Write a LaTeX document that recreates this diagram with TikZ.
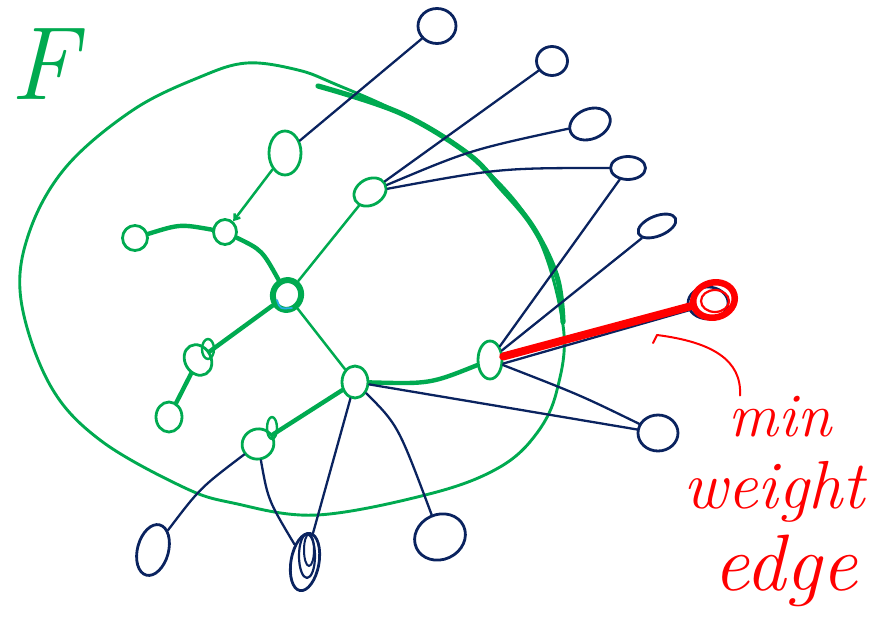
\documentclass[tikz,border=0pt]{standalone}
\usetikzlibrary{shapes.geometric,arrows.meta}
\definecolor{treegreen}{RGB}{0,170,80}
\definecolor{navy}{RGB}{10,35,95}
\definecolor{penred}{RGB}{255,0,0}
\definecolor{hubblue}{RGB}{40,170,230}
\begin{document}
\begin{tikzpicture}[x=1pt,y=-1pt,line cap=round,line join=round,
  gnode/.style={ellipse,draw=treegreen,line width=2.8pt,inner sep=0pt},
  bnode/.style={ellipse,draw=navy,line width=2.8pt,inner sep=0pt},
  gthin/.style={draw=treegreen,line width=2.5pt},
  gthick/.style={draw=treegreen,line width=4.4pt},
  bthin/.style={draw=navy,line width=2.3pt},
  redpen/.style={draw=penred,line width=2pt},
  hand/.style={text=penred,anchor=base,inner sep=0pt,font=\itshape}]
\useasboundingbox (0,0) rectangle (876,621);

% the set F
\draw[treegreen,line width=2.9pt] plot[smooth cycle,tension=0.6] coordinates {
  (21,300) (29,233) (66,167) (133,110) (200,77) (247,63) (298,70) (335,84)
  (400,113) (467,153) (533,227) (563,325) (557,390) (537,433) (500,467)
  (433,493) (317,515) (233,503) (183,487) (100,440) (50,385)};
\draw[treegreen,line width=5.2pt] plot[smooth,tension=0.6] coordinates {
  (318,86) (400,113) (467,153) (500,187) (533,227) (557,277) (563,322)};
\node[text=treegreen,anchor=base,inner sep=0pt,font=\fontsize{104}{104}\selectfont\itshape] (F) at (44,99) {F};

% vertices inside F
\node[gnode,minimum width=32,minimum height=44] (g1) at (285,153) {};
\node[gnode,minimum width=23,minimum height=25] (g2) at (225,232) {};
\node[gnode,minimum width=25,minimum height=25] (g3) at (135,238) {};
\node[gnode,line width=6pt,minimum width=28,minimum height=30,rotate=-20] (g4) at (287,295) {};
\node[gnode,minimum width=34,minimum height=26,rotate=30] (g5) at (370,192) {};
\node[gnode,minimum width=26,minimum height=32,rotate=30] (g6) at (198,360) {};
\node[gnode,minimum width=26,minimum height=30] (g7) at (169,417) {};
\node[gnode,minimum width=32,minimum height=30,rotate=20] (g8) at (258,444) {};
\node[gnode,minimum width=26,minimum height=32] (g9) at (355,382) {};
\node[gnode,minimum width=24,minimum height=38] (g10) at (490,360) {};
\draw[hubblue,line width=1.8pt] (277,300) .. controls (280,309) .. (292,308);
\draw[treegreen,line width=2.4pt] (208,349) ellipse (6 and 10);
\draw[treegreen,line width=2.4pt] (272,428) ellipse (5 and 11);

% vertices outside F
\node[bnode,minimum width=38,minimum height=35] (b1) at (437,26) {};
\node[bnode,minimum width=31,minimum height=29] (b2) at (552,61) {};
\node[bnode,minimum width=42,minimum height=30,rotate=22] (b3) at (590,124) {};
\node[bnode,minimum width=35,minimum height=23] (b4) at (628,168) {};
\node[bnode,minimum width=40,minimum height=20,rotate=22] (b5) at (657,226) {};
\draw[navy,line width=2.6pt] (708,303) ellipse (20 and 16);
\node[ellipse,draw=penred,line width=6.5pt,inner sep=0pt,minimum width=42,minimum height=35,rotate=15] (b6) at (714,300) {};
\draw[penred,line width=2.2pt] (715,301) ellipse (14 and 11);
\node[bnode,minimum width=40,minimum height=36] (b7) at (658,433) {};
\node[bnode,minimum width=52,minimum height=45,rotate=25] (b8) at (440,537) {};
\node[bnode,minimum width=28,minimum height=58,rotate=-10] (b9) at (305,562) {};
\draw[navy,line width=2.2pt] (307,556) ellipse (8 and 22);
\draw[navy,line width=2pt] (309,550) ellipse (5 and 16);
\node[bnode,minimum width=31,minimum height=52,rotate=-15] (b10) at (153,550) {};

% tree edges
\draw[gthin,-{Straight Barb[length=5pt,width=7pt]}] (g1) -- (g2);
\draw[gthick] (g3) .. controls (180,224) .. (g2);
\draw[gthick] (g2) .. controls (262,250) .. (g4);
\draw[gthin] (g4) -- (g5);
\draw[gthick] (g4) -- (g6);
\draw[gthick] (g6) -- (g7);
\draw[gthin] (g4) -- (g9);
\draw[gthick] (g9) -- (g8);
\draw[gthick] (g9) .. controls (430,384) .. (g10);

% edges leaving F
\draw[bthin] (g1) -- (b1);
\draw[bthin] (g5) -- (b2);
\draw[bthin] (g5) .. controls (470,150) .. (b3);
\draw[bthin] (g5) .. controls (500,168) .. (b4);
\draw[bthin] (b4) -- (g10);
\draw[bthin] (b5) -- (g10);
\draw[bthin] (g10) .. controls (580,395) .. (b7);
\draw[bthin] (g9) .. controls (450,398) .. (b7);
\draw[bthin] (g9) .. controls (398,425) .. (b8);
\draw[bthin] (g9) -- (b9);
\draw[bthin] (g8) .. controls (268,500) .. (b9);
\draw[bthin] (g8) .. controls (200,488) .. (b10);
\draw[bthin] ([yshift=-3.5pt]g10.east) -- ([yshift=-3.5pt]b6.west);
\draw[penred,line width=8pt] (g10) -- (b6);

% label of the lightest edge
\node[hand,font=\fontsize{62}{62}\selectfont\itshape] (lmin) at (780,436) {min};
\node[hand,font=\fontsize{68}{68}\selectfont\itshape] (lweight) at (774,508) {weight};
\node[hand,font=\fontsize{80}{80}\selectfont\itshape] (ledge) at (785,590) {edge};
\coordinate (hint) at (657,335);
\draw[redpen] ([xshift=-40pt]lmin.north) .. controls (742,360) and (712,342) .. (hint) -- ++(-4,8);
\end{tikzpicture}
\end{document}
